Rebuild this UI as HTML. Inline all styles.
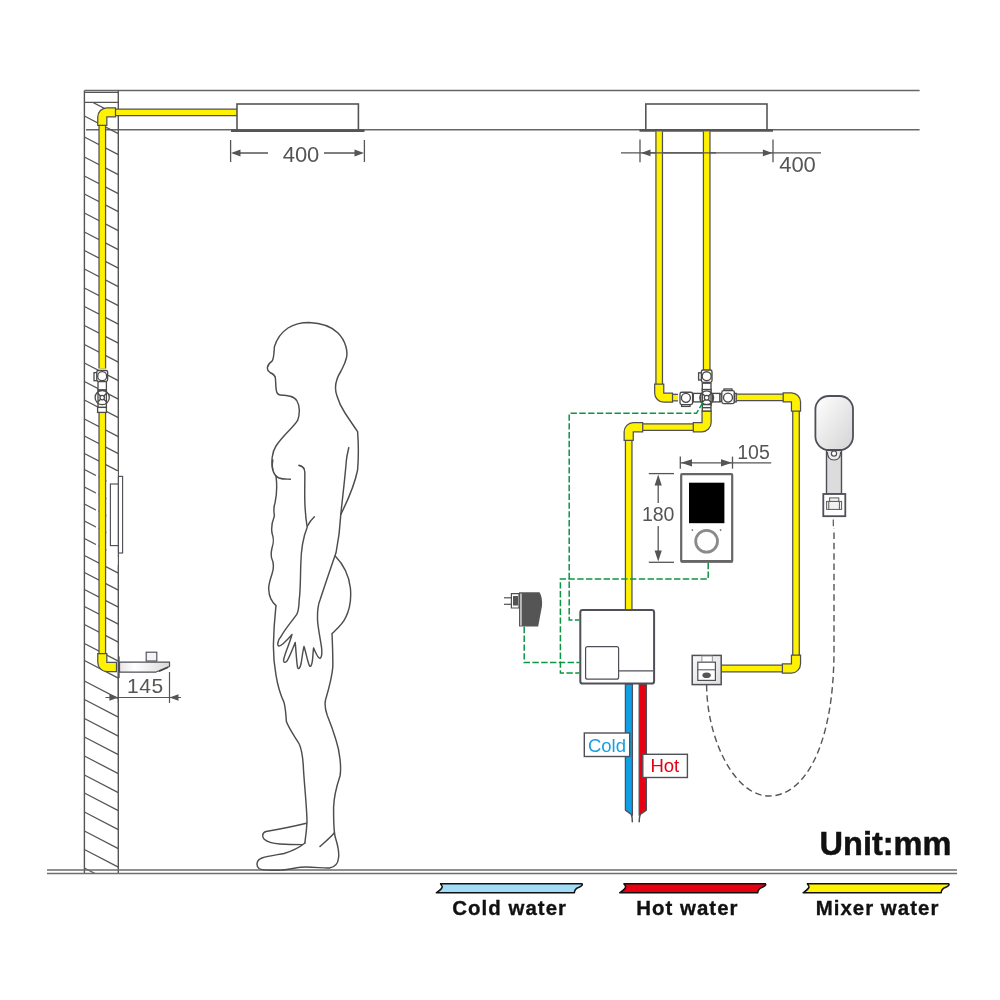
<!DOCTYPE html><html><head><meta charset="utf-8"><style>html,body{margin:0;padding:0;background:#fff;width:1000px;height:1000px;overflow:hidden}svg{display:block;will-change:transform}text{font-family:"Liberation Sans",sans-serif}</style></head><body>
<svg width="1000" height="1000" viewBox="0 0 1000 1000">
<defs>
<clipPath id="wallclip"><rect x="84.5" y="102.4" width="33.8" height="771"/></clipPath>
<linearGradient id="spg" x1="0" y1="0" x2="1" y2="0"><stop offset="0" stop-color="#e6e6e6"/><stop offset="0.3" stop-color="#ffffff"/><stop offset="1" stop-color="#d9d9d9"/></linearGradient>
<linearGradient id="hsg" x1="0" y1="0" x2="1" y2="1"><stop offset="0" stop-color="#ffffff"/><stop offset="1" stop-color="#d4d4d4"/></linearGradient>
<linearGradient id="olg" x1="0" y1="0" x2="1" y2="1"><stop offset="0" stop-color="#f7f7f7"/><stop offset="1" stop-color="#dedede"/></linearGradient>
</defs>
<line x1="84.5" y1="90.4" x2="919.6" y2="90.4" stroke="#666" stroke-width="1.5" />
<line x1="86" y1="129.8" x2="919.6" y2="129.8" stroke="#666" stroke-width="1.5" />
<line x1="84.4" y1="90.4" x2="84.4" y2="873.5" stroke="#555" stroke-width="1.4" />
<line x1="118.3" y1="90.4" x2="118.3" y2="873.5" stroke="#555" stroke-width="1.4" />
<line x1="84.4" y1="92.3" x2="118.3" y2="92.3" stroke="#555" stroke-width="1.2" />
<line x1="84.4" y1="102.4" x2="118.3" y2="102.4" stroke="#555" stroke-width="1.2" />
<g clip-path="url(#wallclip)" stroke="#555" stroke-width="1.25">
<line x1="84.4" y1="98.00" x2="118.3" y2="115.63"/>
<line x1="84.4" y1="116.00" x2="118.3" y2="133.63"/>
<line x1="84.4" y1="137.00" x2="118.3" y2="154.63"/>
<line x1="84.4" y1="157.00" x2="118.3" y2="174.63"/>
<line x1="84.4" y1="176.00" x2="118.3" y2="193.63"/>
<line x1="84.4" y1="194.00" x2="118.3" y2="211.63"/>
<line x1="84.4" y1="213.00" x2="118.3" y2="230.63"/>
<line x1="84.4" y1="232.00" x2="118.3" y2="249.63"/>
<line x1="84.4" y1="250.50" x2="118.3" y2="268.13"/>
<line x1="84.4" y1="269.00" x2="118.3" y2="286.63"/>
<line x1="84.4" y1="288.00" x2="118.3" y2="305.63"/>
<line x1="84.4" y1="306.50" x2="118.3" y2="324.13"/>
<line x1="84.4" y1="325.50" x2="118.3" y2="343.13"/>
<line x1="84.4" y1="344.50" x2="118.3" y2="362.13"/>
<line x1="84.4" y1="363.00" x2="118.3" y2="380.63"/>
<line x1="84.4" y1="381.50" x2="118.3" y2="399.13"/>
<line x1="84.4" y1="400.00" x2="118.3" y2="417.63"/>
<line x1="84.4" y1="419.00" x2="118.3" y2="436.63"/>
<line x1="84.4" y1="436.00" x2="118.3" y2="453.63"/>
<line x1="84.4" y1="453.50" x2="118.3" y2="471.13"/>
<line x1="84.4" y1="469.50" x2="118.3" y2="487.13"/>
<line x1="84.4" y1="487.00" x2="118.3" y2="504.63"/>
<line x1="84.4" y1="504.00" x2="118.3" y2="521.63"/>
<line x1="84.4" y1="521.00" x2="118.3" y2="538.63"/>
<line x1="84.4" y1="538.50" x2="118.3" y2="556.13"/>
<line x1="84.4" y1="555.50" x2="118.3" y2="573.13"/>
<line x1="84.4" y1="572.50" x2="118.3" y2="590.13"/>
<line x1="84.4" y1="589.50" x2="118.3" y2="607.13"/>
<line x1="84.4" y1="606.50" x2="118.3" y2="624.13"/>
<line x1="84.4" y1="624.50" x2="118.3" y2="642.13"/>
<line x1="84.4" y1="643.50" x2="118.3" y2="661.13"/>
<line x1="84.4" y1="660.50" x2="118.3" y2="678.13"/>
<line x1="84.4" y1="681.00" x2="118.3" y2="698.63"/>
<line x1="84.4" y1="699.50" x2="118.3" y2="717.13"/>
<line x1="84.4" y1="718.50" x2="118.3" y2="736.13"/>
<line x1="84.4" y1="737.00" x2="118.3" y2="754.63"/>
<line x1="84.4" y1="756.00" x2="118.3" y2="773.63"/>
<line x1="84.4" y1="775.00" x2="118.3" y2="792.63"/>
<line x1="84.4" y1="793.00" x2="118.3" y2="810.63"/>
<line x1="84.4" y1="812.00" x2="118.3" y2="829.63"/>
<line x1="84.4" y1="831.00" x2="118.3" y2="848.63"/>
<line x1="84.4" y1="849.50" x2="118.3" y2="867.13"/>
<line x1="84.4" y1="868.00" x2="118.3" y2="885.63"/>
</g>
<rect x="106.4" y="471" width="11.2" height="94" fill="#fff"/>
<rect x="95.9" y="470" width="2.6" height="80" fill="#fff"/>
<line x1="47" y1="870" x2="957" y2="870" stroke="#6d6d6d" stroke-width="1.5" />
<line x1="47" y1="873.4" x2="957" y2="873.4" stroke="#6d6d6d" stroke-width="1.5" />
<path d="M102.3,368.4 L102.3,118" fill="none" stroke="#4f4f58" stroke-width="7.8" stroke-linejoin="miter"/>
<path d="M102.3,368.4 L102.3,118" fill="none" stroke="#fff200" stroke-width="5.3" stroke-linejoin="miter"/>
<path d="M108,112.3 L237,112.3" fill="none" stroke="#4f4f58" stroke-width="7.8" stroke-linejoin="miter"/>
<path d="M108,112.3 L237,112.3" fill="none" stroke="#fff200" stroke-width="5.3" stroke-linejoin="miter"/>
<path d="M97.75,125.30 L97.75,116.95 C97.75,111.87 101.87,107.75 106.95,107.75 L115.50,107.75 L115.50,116.85 L106.85,116.85 L106.85,125.30 Z" fill="#fff200" stroke="#4f4f58" stroke-width="1.25" stroke-linejoin="miter"/>
<path d="M102.3,412.8 L102.3,660" fill="none" stroke="#4f4f58" stroke-width="7.8" stroke-linejoin="miter"/>
<path d="M102.3,412.8 L102.3,660" fill="none" stroke="#fff200" stroke-width="5.3" stroke-linejoin="miter"/>
<path d="M97.75,653.50 L97.75,662.35 C97.75,667.43 101.87,671.55 106.95,671.55 L116.50,671.55 L116.50,662.45 L106.85,662.45 L106.85,653.50 Z" fill="#fff200" stroke="#4f4f58" stroke-width="1.25" stroke-linejoin="miter"/>
<g fill="#fff" stroke="#4a4a4a" stroke-width="1.3">
<rect x="94" y="372.6" width="3.2" height="8.1"/>
<rect x="96.8" y="370.5" width="10.8" height="10.8" rx="1.5"/>
<circle cx="102.2" cy="376.2" r="4.5"/>
<rect x="98" y="381.6" width="8.4" height="8.4"/>
<circle cx="102.2" cy="397.6" r="7.1"/>
<rect x="98" y="390" width="8.4" height="17.4" fill="none"/>
<path d="M97.8,393.2 L106.6,402 M106.6,393.2 L97.8,402"/>
<circle cx="102.2" cy="397.6" r="2.2"/>
<rect x="97.6" y="407.4" width="8.8" height="5"/>
</g>
<rect x="110.4" y="484" width="8" height="61.6" fill="#fff" stroke="#4f4f58" stroke-width="1.15"/>
<rect x="118.4" y="476.4" width="4.2" height="76.6" fill="#fff" stroke="#4f4f58" stroke-width="1.15"/>
<rect x="237" y="104" width="121.4" height="26" fill="#fff" stroke="#555" stroke-width="1.6"/>
<line x1="231" y1="130.6" x2="364.5" y2="130.6" stroke="#555" stroke-width="2.6" />
<line x1="230.6" y1="140" x2="230.6" y2="162" stroke="#555" stroke-width="1.3" />
<line x1="364.4" y1="140" x2="364.4" y2="162" stroke="#555" stroke-width="1.3" />
<line x1="235" y1="153" x2="268" y2="153" stroke="#555" stroke-width="1.3" />
<line x1="324" y1="153" x2="360" y2="153" stroke="#555" stroke-width="1.3" />
<path d="M231,153 L240.50,149.60 L240.50,156.40 Z" fill="#555"/>
<path d="M364,153 L354.50,156.40 L354.50,149.60 Z" fill="#555"/>
<text x="301" y="161.6" font-size="22" fill="#555" text-anchor="middle">400</text>
<rect x="146.2" y="652.2" width="10.6" height="8.8" fill="#f4f4f4" stroke="#4f4f58" stroke-width="1.15"/>
<path d="M119.5,662 L169.5,662 L169.5,666.5 Q164,669 156,672 L119.5,672 Z" fill="url(#spg)" stroke="#4f4f58" stroke-width="1.25"/>
<path d="M159,671.3 L168,667.3" stroke="#444" stroke-width="1.8"/>
<line x1="119" y1="656.5" x2="119" y2="678" stroke="#4f4f58" stroke-width="1.3" />
<line x1="105.5" y1="697.5" x2="181" y2="697.5" stroke="#555" stroke-width="1.2" />
<line x1="118.4" y1="672" x2="118.4" y2="703" stroke="#555" stroke-width="1.2" />
<line x1="169.5" y1="672" x2="169.5" y2="703" stroke="#555" stroke-width="1.2" />
<path d="M118.4,697.5 L109.40,700.70 L109.40,694.30 Z" fill="#555"/>
<path d="M169.5,697.5 L178.50,694.30 L178.50,700.70 Z" fill="#555"/>
<text x="145.3" y="692.8" font-size="21" letter-spacing="0.6" fill="#555" text-anchor="middle">145</text>
<g fill="none" stroke="#4d4d4d" stroke-width="1.45" stroke-linecap="round" stroke-linejoin="round">
<path d="M272.8,470 C271,462 272,452 276,446 C284,434 293,428 297.6,420.4 C300,414 300,406 297,401 C294,396 288,395.5 280,395 C276,394.8 276,390 275.5,379 C275.5,375 273,374 270,372.5 C266,370 266.5,365 272,361.2 C274,359 274,352 274.4,346.8 C277,338 282,332 288,328 C296,323 303,322.5 309,322.5 C322,323 332,327 338,333 C346,341 348,352 346.4,358 C345,364 343,367 341,371 C336,379 334,388 337,396 C339,403 341,407 345,413 C349,419 353,425 357.6,431.6 C358.6,445 358.6,458 357.6,470 C356,478 352,492 340.8,514.4"/>
<path d="M272.8,460 C271,469 274,476 279,478 C283,479.5 287,479 290.4,479.2"/>
<path d="M276,476 C277,484 277,494 275,503 C273,508 274,512 274.4,516 C272,522 271,527 272,533 C274,539 274,542 272,548 C271,552 271,555 271.6,558 C274,563 274,568 272,574 C270,580 268,586 268.8,590 C269,597 272,602 276,605.6 C275.5,612 274,622 273.6,640 C273,652 274,664 276,675.2 C278,688 281,696 284,702.4 C285.5,708 286,715 286.4,721.6 C290,731 296,738 299.2,744 C302,750 303,757 303.5,770 C305,792 307,810 307,822 C306.5,832 305.5,838 304.8,843"/>
<path d="M305,843 C300,847 294,850.5 284,853.5 C276,855 268,856 262,858 C256,860 256,866 259,868.5 C262,870.5 270,870.6 282,870 C292,869 298,867 306,867 C316,867 324,868.5 329.6,868 C335,867 338,864 338.5,858 C339.5,852 338,846 335.5,838 C333.5,832 333.6,822 333.6,807.2 C334,794 337,785 340,776 C341.5,768 340,752 336,740 C333,730 330,722 327.2,715.2 C325,709 324.5,705 325.5,700 C329,688 332,677 332.8,667.2 C333,655 332.5,645 332,633.6 C337,629 343,624 345.6,617.6 C350,609 351.5,600 350.4,588 C349,576 343,564 335.2,556"/>
<path d="M320,846.4 C325,842 330,838 334.4,832.8"/>
<path d="M306.4,823.2 C295,826 280,829 266,831.5 C262,832.5 262,837 264,839 C267,842 272,843.5 280,844 C288,844.5 294,844.6 302,844.6"/>
<path d="M299.2,465.6 C302,466 304.6,468 304.8,472 C305,482 304.5,492 304.8,500 C305,511 306,520 307.2,527.2 C302,540 301,553 300.8,564 C300.4,576 300.5,590 299.2,600 C299,606 298.5,611 296.8,614.4 C292,621 285,629 280.8,636.8 C278,640 277,645 278.5,646 C281,646.5 288,639 292,634.4 C290,643 285,652 283.6,660 C283.5,663 285,663 287,661 C290,656 293,648 295.2,642.4 C296,650 296.5,662 297.6,667.5 C298.5,670 300,668 301,664 C302,658 303,650 304,646.4 C306,652 307.5,662 309.6,666 C311,667.5 312,664 312.5,660 C313,655 313.2,650 313.6,648 C315.5,652 317.5,658 320,658.4 C322,657 322,652 321.6,648 C320.5,640 318,628 317.6,620.8 C317.2,612 318,605 320,600 C324,588 330,570 336,552.8 C338,543 340,530 340.8,514.4 C342.5,498 345,478 346.4,460 C347,455 348,451 348.8,447.6"/>
<path d="M307.5,526 C309.5,522 312,519 314.4,516.8"/>
<path d="M299,465.2 C300.5,465.5 302.5,466.5 304,468.5"/>
</g>
<rect x="645.8" y="104" width="121.2" height="26" fill="#fff" stroke="#555" stroke-width="1.6"/>
<line x1="639.5" y1="130.4" x2="773" y2="130.4" stroke="#555" stroke-width="2.7" />
<line x1="621" y1="152.9" x2="821" y2="152.9" stroke="#555" stroke-width="1.3" />
<line x1="640" y1="139.5" x2="640" y2="162.3" stroke="#555" stroke-width="1.3" />
<line x1="773" y1="139.5" x2="773" y2="162.3" stroke="#555" stroke-width="1.3" />
<path d="M641,152.9 L650.50,149.50 L650.50,156.30 Z" fill="#555"/>
<path d="M772.4,152.9 L762.90,156.30 L762.90,149.50 Z" fill="#555"/>
<text x="797.5" y="171.8" font-size="22" fill="#555" text-anchor="middle">400</text>
<path d="M659.2,131.6 L659.2,390" fill="none" stroke="#4f4f58" stroke-width="7.8" stroke-linejoin="miter"/>
<path d="M659.2,131.6 L659.2,390" fill="none" stroke="#fff200" stroke-width="5.3" stroke-linejoin="miter"/>
<path d="M666,397.6 L678,397.6" fill="none" stroke="#4f4f58" stroke-width="7.8" stroke-linejoin="miter"/>
<path d="M666,397.6 L678,397.6" fill="none" stroke="#fff200" stroke-width="5.3" stroke-linejoin="miter"/>
<path d="M654.65,384.10 L654.65,392.95 C654.65,398.03 658.77,402.15 663.85,402.15 L672.50,402.15 L672.50,393.05 L663.75,393.05 L663.75,384.10 Z" fill="#fff200" stroke="#4f4f58" stroke-width="1.25" stroke-linejoin="miter"/>
<path d="M706.7,131.6 L706.7,370.5" fill="none" stroke="#4f4f58" stroke-width="7.8" stroke-linejoin="miter"/>
<path d="M706.7,131.6 L706.7,370.5" fill="none" stroke="#fff200" stroke-width="5.3" stroke-linejoin="miter"/>
<path d="M735,397.4 L789,397.4" fill="none" stroke="#4f4f58" stroke-width="7.8" stroke-linejoin="miter"/>
<path d="M735,397.4 L789,397.4" fill="none" stroke="#fff200" stroke-width="5.3" stroke-linejoin="miter"/>
<path d="M796,404 L796,662" fill="none" stroke="#4f4f58" stroke-width="7.8" stroke-linejoin="miter"/>
<path d="M796,404 L796,662" fill="none" stroke="#fff200" stroke-width="5.3" stroke-linejoin="miter"/>
<path d="M789,668.5 L721.4,668.5" fill="none" stroke="#4f4f58" stroke-width="7.8" stroke-linejoin="miter"/>
<path d="M789,668.5 L721.4,668.5" fill="none" stroke="#fff200" stroke-width="5.3" stroke-linejoin="miter"/>
<path d="M783.20,392.85 L791.35,392.85 C796.43,392.85 800.55,396.97 800.55,402.05 L800.55,411.00 L791.45,411.00 L791.45,401.95 L783.20,401.95 Z" fill="#fff200" stroke="#4f4f58" stroke-width="1.25" stroke-linejoin="miter"/>
<path d="M800.55,655.20 L800.55,663.85 C800.55,668.93 796.43,673.05 791.35,673.05 L782.40,673.05 L782.40,663.95 L791.45,663.95 L791.45,655.20 Z" fill="#fff200" stroke="#4f4f58" stroke-width="1.25" stroke-linejoin="miter"/>
<path d="M699,427.2 L636,427.2" fill="none" stroke="#4f4f58" stroke-width="7.8" stroke-linejoin="miter"/>
<path d="M699,427.2 L636,427.2" fill="none" stroke="#fff200" stroke-width="5.3" stroke-linejoin="miter"/>
<path d="M628.7,434 L628.7,610" fill="none" stroke="#4f4f58" stroke-width="7.8" stroke-linejoin="miter"/>
<path d="M628.7,434 L628.7,610" fill="none" stroke="#fff200" stroke-width="5.3" stroke-linejoin="miter"/>
<path d="M711.15,411.00 L711.15,422.55 C711.15,427.63 707.03,431.75 701.95,431.75 L693.30,431.75 L693.30,422.65 L702.05,422.65 L702.05,411.00 Z" fill="#fff200" stroke="#4f4f58" stroke-width="1.25" stroke-linejoin="miter"/>
<path d="M642.70,422.65 L633.35,422.65 C628.27,422.65 624.15,426.77 624.15,431.85 L624.15,440.30 L633.25,440.30 L633.25,431.75 L642.70,431.75 Z" fill="#fff200" stroke="#4f4f58" stroke-width="1.25" stroke-linejoin="miter"/>
<line x1="650" y1="152.9" x2="716" y2="152.9" stroke="#555" stroke-width="1.3" />
<g fill="#fff" stroke="#4a4a4a" stroke-width="1.35">
<rect x="698.6" y="372.8" width="3.4" height="7.2"/>
<rect x="701.4" y="370" width="10.6" height="12.4" rx="1.8"/>
<circle cx="706.7" cy="376.2" r="4.5"/>
<rect x="702.3" y="383.2" width="8.7" height="7.6"/>
<rect x="681.6" y="403.6" width="8.4" height="2.8"/>
<rect x="680" y="392.2" width="12.6" height="12.4" rx="1.8"/>
<circle cx="685.9" cy="397.8" r="4.5"/>
<rect x="693.3" y="393.4" width="7.4" height="8.5"/>
<rect x="712.4" y="393.4" width="7.6" height="8.5"/>
<rect x="720" y="394" width="2" height="7.4"/>
<rect x="724" y="389" width="8" height="2.6"/>
<rect x="721.8" y="390.6" width="12.6" height="13" rx="1.8"/>
<circle cx="728" cy="397.6" r="4.5"/>
<rect x="734.4" y="393.4" width="1.8" height="8.5"/>
<rect x="702.3" y="389.5" width="8.7" height="16"/>
<circle cx="706.7" cy="397.8" r="6.9" fill="none"/>
<path d="M702.1,393.2 L711.3,402.4 M711.3,393.2 L702.1,402.4"/>
<circle cx="706.7" cy="397.8" r="2.4"/>
<rect x="702.3" y="404.6" width="8.7" height="6.4"/>
<line x1="702.3" y1="407.7" x2="711" y2="407.7"/>
</g>
<g fill="none" stroke="#0c9543" stroke-width="1.5" stroke-dasharray="6.4,2.4">
<path d="M702.8,402.6 L696.5,413.3 L569.2,413.3 L569.2,619.9 L579.3,619.9"/>
<path d="M708.2,562.8 L708.2,579 L560.4,579 L560.4,673 L579.3,673"/>
<path d="M524.2,626.8 L524.2,662.6 L579.3,662.6"/>
</g>
<rect x="681.2" y="474.2" width="51" height="87.4" rx="0.8" fill="#fff" stroke="#666" stroke-width="2.2"/>
<line x1="681" y1="561.3" x2="733" y2="561.3" stroke="#666" stroke-width="2.6" />
<rect x="689" y="482.7" width="35.4" height="40.5" fill="#000"/>
<circle cx="706.6" cy="541.3" r="10.9" fill="none" stroke="#8a8a8a" stroke-width="2.8"/>
<circle cx="692.4" cy="530" r="0.85" fill="#555"/>
<circle cx="720.6" cy="530" r="0.85" fill="#555"/>
<line x1="680.3" y1="462.8" x2="771.2" y2="462.8" stroke="#555" stroke-width="1.3" />
<line x1="680.3" y1="456.6" x2="680.3" y2="468.7" stroke="#555" stroke-width="1.3" />
<line x1="732.5" y1="456.6" x2="732.5" y2="468.7" stroke="#555" stroke-width="1.3" />
<path d="M681,462.8 L692.00,459.20 L692.00,466.40 Z" fill="#555"/>
<path d="M732,462.8 L721.00,466.40 L721.00,459.20 Z" fill="#555"/>
<text x="753.5" y="458.8" font-size="19.5" fill="#555" text-anchor="middle">105</text>
<line x1="648.8" y1="473.6" x2="674" y2="473.6" stroke="#555" stroke-width="1.3" />
<line x1="648.8" y1="562.3" x2="674" y2="562.3" stroke="#555" stroke-width="1.3" />
<line x1="658.2" y1="480" x2="658.2" y2="503" stroke="#555" stroke-width="1.3" />
<line x1="658.2" y1="526" x2="658.2" y2="556" stroke="#555" stroke-width="1.3" />
<path d="M658.2,474.5 L661.80,485.50 L654.60,485.50 Z" fill="#555"/>
<path d="M658.2,561.5 L654.60,550.50 L661.80,550.50 Z" fill="#555"/>
<text x="658.2" y="521.4" font-size="19.5" fill="#555" text-anchor="middle">180</text>
<path d="M826.5,450 L841.5,450 L841.5,494 L826.5,494 Z" fill="#dcdcdc" stroke="#4f4f58" stroke-width="1.4"/>
<path d="M827.4,452 C827.5,457 830,460 834,460 C838,460 840.6,457 840.6,452" fill="#eee" stroke="#4f4f58" stroke-width="1.2"/>
<rect x="815.4" y="396" width="37.6" height="54" rx="13.5" ry="13.5" fill="url(#hsg)" stroke="#4f4f58" stroke-width="1.8"/>
<circle cx="834" cy="453.6" r="2.6" fill="#fff" stroke="#4f4f58" stroke-width="1.2"/>
<rect x="823.3" y="494" width="22" height="22.2" fill="#fff" stroke="#4f4f58" stroke-width="1.8"/>
<g fill="#f2f2f2" stroke="#5a5a5a" stroke-width="1"><rect x="826.6" y="501.4" width="15" height="8"/><rect x="829.6" y="497.9" width="9.2" height="3.5"/><path d="M828.8,501.4 L828.8,509.4 M839.4,501.4 L839.4,509.4" fill="none"/></g>
<line x1="833.3" y1="519.5" x2="833.3" y2="526.3" stroke="#555" stroke-width="1.2" />
<path d="M706.6,685 C707,740 735,796 769,796 C805,796 834,745 834,650 L834,528.5" fill="none" stroke="#555" stroke-width="1.4" stroke-dasharray="6.5,3.8"/>
<rect x="692.2" y="655.4" width="29" height="29.2" fill="url(#olg)" stroke="#4f4f58" stroke-width="1.5"/>
<rect x="697.8" y="662.2" width="17.6" height="18.2" fill="#fff" stroke="#4f4f58" stroke-width="1.2"/>
<rect x="701.9" y="656" width="10.4" height="5.8" fill="#fff" stroke="#888" stroke-width="0.9"/>
<line x1="697.8" y1="669.8" x2="715.4" y2="669.8" stroke="#4f4f58" stroke-width="1.0" />
<ellipse cx="706.6" cy="675.2" rx="4.2" ry="2.8" fill="#555"/>
<path d="M625.4,684 L625.4,810.1 L632.4,815.2 L632.4,684 Z" fill="#0ea0e6" stroke="#4f4f58" stroke-width="1.3" stroke-linejoin="round"/>
<path d="M646.4,684 L646.4,810.1 L639.2,815.2 L639.2,684 Z" fill="#e60012" stroke="#4f4f58" stroke-width="1.3" stroke-linejoin="round"/>
<path d="M631.4,814.6 C632.2,816.5 632.4,819 632.3,821.8 M640.2,814.6 C639.4,816.5 639.2,819 639.2,821.8" fill="none" stroke="#4f4f58" stroke-width="1.5" stroke-linecap="round"/>
<rect x="580.3" y="610" width="73.8" height="73.6" rx="2.4" fill="#fff" stroke="#4f4f58" stroke-width="2"/>
<rect x="585.6" y="646.6" width="33" height="32.6" rx="2" fill="#fff" stroke="#4f4f58" stroke-width="1.2"/>
<line x1="618.6" y1="670.8" x2="653" y2="670.8" stroke="#4f4f58" stroke-width="1.2" />
<path d="M519,592.3 L539.5,592.3 Q542.6,597 542,606 L538.2,626.6 L519,626.6 Z" fill="#555"/>
<rect x="520.2" y="593.6" width="1.5" height="32" fill="#d8d8d8"/>
<path d="M511.4,593.6 L519,593.6 L519,608 L511.4,608 Z" fill="#fff" stroke="#505050" stroke-width="1.2"/>
<rect x="513" y="596" width="5" height="9.5" fill="#555"/>
<line x1="504" y1="597.8" x2="511" y2="597.8" stroke="#505050" stroke-width="1.2" />
<line x1="504" y1="604.3" x2="511" y2="604.3" stroke="#505050" stroke-width="1.2" />
<rect x="584.3" y="733" width="45.4" height="23.5" fill="#fff" stroke="#4f4f58" stroke-width="1.4"/>
<text x="607" y="751.8" font-size="18.5" fill="#179fe0" text-anchor="middle">Cold</text>
<rect x="642.8" y="754.3" width="44.6" height="23.2" fill="#fff" stroke="#4f4f58" stroke-width="1.4"/>
<text x="664.8" y="772.4" font-size="18.5" fill="#e60012" text-anchor="middle">Hot</text>
<text x="885.5" y="854.6" font-size="32.5" font-weight="bold" fill="#111" stroke="#111" stroke-width="0.5" text-anchor="middle">Unit:mm</text>
<path d="M440.60,883.8 L582.00,883.8 C583.00,885 581.50,886.2 579.00,887.2 C576.00,888.3 574.40,889.5 574.40,892.8 L436.30,892.8 C440.30,889.8 442.90,888 442.10,886.2 C441.70,885.4 440.90,884.6 440.60,883.8 Z" fill="#a0dcf6" stroke="#111" stroke-width="1.5" stroke-linejoin="round"/>
<text x="509.7" y="914.8" font-size="20.4" font-weight="bold" fill="#111" stroke="#111" stroke-width="0.35" text-anchor="middle" letter-spacing="1.05">Cold water</text>
<path d="M624.00,883.8 L765.40,883.8 C766.40,885 764.90,886.2 762.40,887.2 C759.40,888.3 757.80,889.5 757.80,892.8 L619.70,892.8 C623.70,889.8 626.30,888 625.50,886.2 C625.10,885.4 624.30,884.6 624.00,883.8 Z" fill="#e60012" stroke="#111" stroke-width="1.5" stroke-linejoin="round"/>
<text x="687.4" y="914.8" font-size="20.4" font-weight="bold" fill="#111" stroke="#111" stroke-width="0.35" text-anchor="middle" letter-spacing="1.05">Hot water</text>
<path d="M807.40,883.8 L948.80,883.8 C949.80,885 948.30,886.2 945.80,887.2 C942.80,888.3 941.20,889.5 941.20,892.8 L803.10,892.8 C807.10,889.8 809.70,888 808.90,886.2 C808.50,885.4 807.70,884.6 807.40,883.8 Z" fill="#fff200" stroke="#111" stroke-width="1.5" stroke-linejoin="round"/>
<text x="877.5" y="914.8" font-size="20.4" font-weight="bold" fill="#111" stroke="#111" stroke-width="0.35" text-anchor="middle" letter-spacing="1.05">Mixer water</text>
</svg></body></html>
